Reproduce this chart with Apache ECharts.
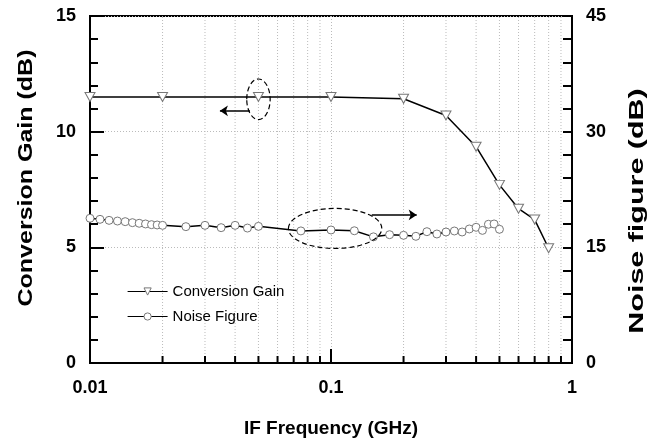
<!DOCTYPE html>
<html>
<head>
<meta charset="utf-8">
<script src="https://cdn.jsdelivr.net/npm/echarts@6/dist/echarts.min.js"></script>
<style>
  html, body { margin: 0; padding: 0; background: #fff; }
  #chart { width: 665px; height: 442px; }
</style>
</head>
<body>
<div id="chart"></div>
<script>
/******************* data *******************/
// conversion gain (left axis, dB)
var cgFreq = [0.01, 0.02, 0.05, 0.1, 0.2, 0.3, 0.4, 0.5, 0.6, 0.7, 0.8];
var cgGain = [11.5, 11.5, 11.5, 11.5, 11.42, 10.7, 9.35, 7.7, 6.67, 6.2, 4.96];

// noise figure (right axis, dB)
var nfFreq = [0.010, 0.011, 0.012, 0.013, 0.014, 0.015, 0.016, 0.017, 0.018, 0.019, 0.020,
              0.025, 0.030, 0.035, 0.040, 0.045, 0.050, 0.075,
              0.1, 0.125, 0.15, 0.175, 0.2, 0.225, 0.25, 0.275, 0.3, 0.325, 0.35,
              0.375, 0.4, 0.425, 0.45, 0.475, 0.5];
var nfValue = [18.77, 18.63, 18.5, 18.41, 18.33, 18.2, 18.12, 18.03, 17.94, 17.9, 17.85,
               17.68, 17.85, 17.55, 17.85, 17.5, 17.72, 17.13,
               17.25, 17.15, 16.36, 16.64, 16.56, 16.43, 17.03, 16.73, 16.99, 17.12, 16.99,
               17.38, 17.6, 17.2, 17.99, 18.03, 17.34];

// log minor ticks / grid lines on the frequency axis
var xMinor = [0.02, 0.03, 0.04, 0.05, 0.06, 0.07, 0.08, 0.09,
              0.2, 0.3, 0.4, 0.5, 0.6, 0.7, 0.8, 0.9];

// annotation arrows [from, to]
var gainArrow = [[0.0461, 10.9], [0.0346, 10.9]];
var nfArrow = [[0.1476, 19.2], [0.2268, 19.2]];

var FONT = 'Liberation Sans, Arial, sans-serif';

function pairs(xs, ys) {
    return xs.map(function (x, i) { return [x, ys[i]]; });
}

chartDom = document.getElementById('chart');
myChart = echarts.init(chartDom);

option = {
    animation: false,
    grid: {
        left: 90, right: 93, top: 16, bottom: 79,
        show: true,
        borderColor: '#000',
        borderWidth: 2,
        outerBoundsMode: 'none'
    },
    legend: {
        data: ['Conversion Gain', 'Noise Figure'],
        orient: 'vertical',
        left: 122,
        top: 279,
        itemWidth: 40,
        itemHeight: 9,
        itemGap: 10,
        itemStyle: { color: '#fff', borderColor: '#777', borderWidth: 1 },
        lineStyle: { width: 1.2 },
        textStyle: { fontFamily: FONT, fontSize: 15, color: '#000' }
    },
    xAxis: {
        type: 'log',
        logBase: 10,
        min: 0.01,
        max: 1,
        name: 'IF Frequency (GHz)',
        nameLocation: 'middle',
        nameGap: 56,
        nameTextStyle: { fontFamily: FONT, fontSize: 19, fontWeight: 'bold', color: '#000' },
        axisLine: { lineStyle: { color: '#000', width: 2 } },
        axisTick: { inside: true, length: 14, lineStyle: { color: '#000', width: 2 } },
        axisLabel: {
            margin: 16,
            fontFamily: FONT, fontSize: 18, fontWeight: 'bold', color: '#000',
            formatter: function (v) { return String(+v.toPrecision(2)); }
        },
        splitLine: { show: true, lineStyle: { color: '#bbb', type: [1, 2] } },
        minorTick: { show: false },
        minorSplitLine: { show: false }
    },
    yAxis: [
        {
            type: 'value',
            min: 0, max: 15, interval: 5,
            axisLine: { show: true, lineStyle: { color: '#000', width: 2 } },
            axisTick: { inside: true, length: 14, lineStyle: { color: '#000', width: 2 } },
            minorTick: { show: true, splitNumber: 5, length: 8, lineStyle: { color: '#000', width: 2 } },
            axisLabel: { margin: 14, fontFamily: FONT, fontSize: 18, fontWeight: 'bold', color: '#000' },
            splitLine: { show: true, lineStyle: { color: '#bbb', type: [1, 2] } }
        },
        {
            type: 'value',
            min: 0, max: 45, interval: 15,
            axisLine: { show: true, lineStyle: { color: '#000', width: 2 } },
            axisTick: { inside: true, length: 9, lineStyle: { color: '#000', width: 2 } },
            minorTick: { show: true, splitNumber: 5, length: 9, lineStyle: { color: '#000', width: 2 } },
            axisLabel: { margin: 14, fontFamily: FONT, fontSize: 18, fontWeight: 'bold', color: '#000' },
            splitLine: { show: false }
        }
    ],
    series: [
        {
            // x grid lines + minor ticks of the log axis
            type: 'custom',
            silent: true,
            z: 1,
            xAxisIndex: 0,
            yAxisIndex: 0,
            data: xMinor.map(function (v) { return [v, 0]; }),
            renderItem: function (params, api) {
                var x = api.value(0);
                var bot = api.coord([x, 0]);
                var top = api.coord([x, 15]);
                return {
                    type: 'group',
                    children: [
                        { type: 'line', shape: { x1: bot[0], y1: bot[1], x2: top[0], y2: top[1] },
                          style: { stroke: '#bbb', lineWidth: 1, lineDash: [1, 2] } },
                        { type: 'line', shape: { x1: bot[0], y1: bot[1], x2: bot[0], y2: bot[1] - 7 },
                          style: { stroke: '#000', lineWidth: 2 } }
                    ]
                };
            }
        },
        {
            name: 'Conversion Gain',
            type: 'line',
            yAxisIndex: 0,
            z: 3,
            data: pairs(cgFreq, cgGain),
            symbol: 'triangle',
            symbolRotate: 180,
            symbolSize: [10, 9],
            showAllSymbol: true,
            lineStyle: { color: '#000', width: 1.5 },
            itemStyle: { color: '#fff', borderColor: '#777', borderWidth: 1 },
            markLine: {
                silent: true,
                symbol: ['none', 'arrow'],
                symbolSize: 8,
                label: { show: false },
                lineStyle: { color: '#000', width: 1.5, type: 'solid' },
                data: [[{ coord: gainArrow[0] }, { coord: gainArrow[1] }]]
            }
        },
        {
            name: 'Noise Figure',
            type: 'line',
            yAxisIndex: 1,
            z: 3,
            data: pairs(nfFreq, nfValue),
            symbol: 'circle',
            symbolSize: 8,
            showAllSymbol: true,
            lineStyle: { color: '#000', width: 1.5 },
            itemStyle: { color: '#fff', borderColor: '#777', borderWidth: 1 },
            markLine: {
                silent: true,
                symbol: ['none', 'arrow'],
                symbolSize: 8,
                label: { show: false },
                lineStyle: { color: '#000', width: 1.5, type: 'solid' },
                data: [[{ coord: nfArrow[0] }, { coord: nfArrow[1] }]]
            }
        }
    ]
};

myChart.setOption(option);

// dashed ellipses marking which axis each curve belongs to
var c1 = myChart.convertToPixel({ seriesIndex: 1 }, [0.05, 11.4]);
var c2 = myChart.convertToPixel({ seriesIndex: 2 }, [0.104, 17.45]);
myChart.setOption({
    graphic: [
        { type: 'ellipse', silent: true, z: 10,
          shape: { cx: c1[0], cy: c1[1], rx: 11.7, ry: 20.3 },
          style: { fill: null, stroke: '#000', lineWidth: 1.2, lineDash: [5, 3] } },
        { type: 'ellipse', silent: true, z: 10,
          shape: { cx: c2[0], cy: c2[1], rx: 46.7, ry: 20 },
          style: { fill: null, stroke: '#000', lineWidth: 1.2, lineDash: [5, 3] } },
        // vertical axis titles (the original lettering is stretched along the text)
        { type: 'text', silent: true, x: 26, y: 178, rotation: Math.PI / 2, scaleX: 1.25,
          style: { text: 'Conversion Gain (dB)', font: 'bold 20px ' + FONT, fill: '#000',
                   align: 'center', verticalAlign: 'middle' } },
        { type: 'text', silent: true, x: 637, y: 211, rotation: Math.PI / 2, scaleX: 1.45,
          style: { text: 'Noise figure (dB)', font: 'bold 21px ' + FONT, fill: '#000',
                   align: 'center', verticalAlign: 'middle' } }
    ]
});
</script>
</body>
</html>
